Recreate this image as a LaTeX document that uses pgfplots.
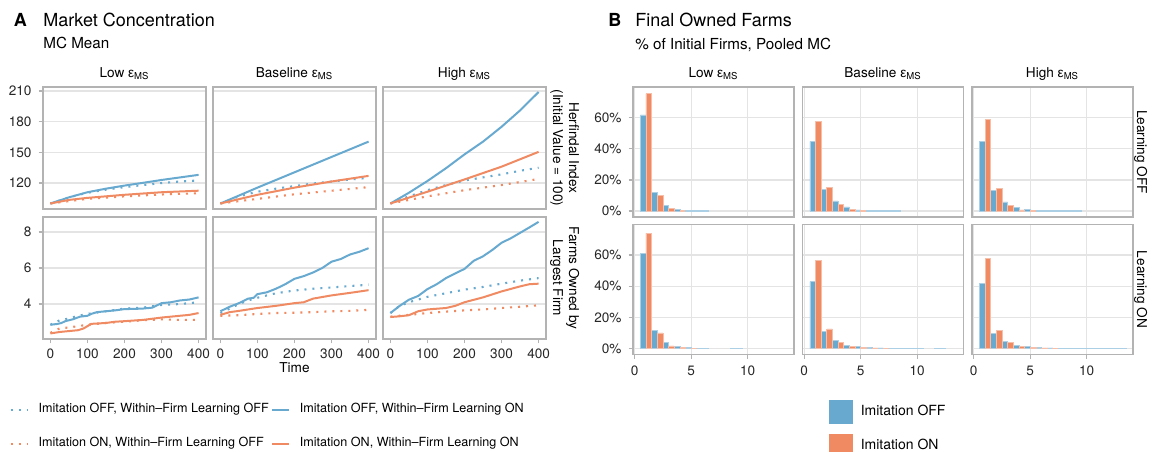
\documentclass[border=0pt]{standalone}
\usepackage{pgfplots}
\pgfplotsset{compat=1.18}
\usepackage{fontspec}
\setmainfont{TeX Gyre Heros}
\newfontfamily\grk{Liberation Sans}
\definecolor{cblue}{HTML}{67A9CF}
\definecolor{corange}{HTML}{EF8A62}
\definecolor{bordergray}{HTML}{B3B3B3}
\definecolor{gridgray}{HTML}{E4E4E4}
\newcommand{\eps}{{\grk ε}\textsubscript{MS}}
\newcommand{\ticksz}{\fontsize{6.8}{7}\selectfont}
\newcommand{\stripsz}{\fontsize{6.8}{8}\selectfont}
\pgfplotsset{
  /pgf/number format/assume math mode=true,
  every axis title/.style={at={(0.5,1)}, anchor=base, yshift=4.9pt, font=\stripsz},
  base/.style={scale only axis, clip mode=individual, axis line style={bordergray, line width=0.75pt},
    tick style={bordergray, line width=0.6pt}, tick align=outside, major tick length=2.2pt,
    xtick pos=left, ytick pos=left, grid style={gridgray, line width=0.6pt},
    tick label style={font=\ticksz, text=black!85}},
  Aax/.style={base, width=81.5pt, height=61pt, xmin=-20, xmax=420, ymajorgrids, xtick={0,100,200,300,400},
    xticklabel style={yshift=1pt}},
  Atop/.style={Aax, ymin=94.6, ymax=213.9, ytick={120,150,180,210}, xticklabels={}, xtick style={draw=none}},
  Abot/.style={Aax, ymin=2.06, ymax=8.83, ytick={4,6,8}},
  Bax/.style={base, width=80.5pt, height=65pt, xmin=-0.15, xmax=14.1, ymin=-3.8, ymax=79.6,
    xmajorgrids, ymajorgrids, xtick={0,5,10}, ytick={0,20,40,60}, yticklabel={\pgfmathprintnumber{\tick}\%}},
  Btop/.style={Bax, xticklabels={}, xtick style={draw=none}},
  noy/.style={yticklabels={}, ytick style={draw=none}},
  dotb/.style={cblue, line width=1.05pt, dash pattern=on 1pt off 3pt},
  doto/.style={corange, line width=1.05pt, dash pattern=on 1pt off 3pt},
  solb/.style={cblue, line width=1pt},
  solo/.style={corange, line width=1pt},
  hb/.style={ybar, bar width=0.5, bar shift=0pt, fill=cblue, draw=cblue!55!white, line width=0.3pt, forget plot},
  ho/.style={ybar, bar width=0.5, bar shift=0pt, fill=corange, draw=corange!55!white, line width=0.3pt, forget plot},
  fb/.style={ybar, bar width=1, bar shift=0pt, fill=cblue, draw=cblue!55!white, line width=0.3pt, forget plot},
}
\begin{document}
\begin{tikzpicture}
\path[use as bounding box] (0,0) rectangle (576pt,-225.5pt);
% Titles
\node[anchor=base west, inner sep=0pt, font=\bfseries\fontsize{9}{10}\selectfont] at (6.7pt,-13pt) {A};
\node[anchor=base west, inner sep=0pt, font=\fontsize{9}{10}\selectfont] at (21.5pt,-13pt) {Market Concentration};
\node[anchor=base west, inner sep=0pt, font=\fontsize{7.6}{8}\selectfont] at (21.5pt,-24.4pt) {MC Mean};
\node[anchor=base west, inner sep=0pt, font=\bfseries\fontsize{9}{10}\selectfont] at (304pt,-13pt) {B};
\node[anchor=base west, inner sep=0pt, font=\fontsize{9}{10}\selectfont] at (317.5pt,-13pt) {Final Owned Farms};
\node[anchor=base west, inner sep=0pt, font=\fontsize{7.6}{8}\selectfont] at (317.5pt,-24.8pt) {\% of Initial Firms, Pooled MC};

% ===== Panel A top row =====
\begin{axis}[Atop, at={(21.5pt,-43.5pt)}, anchor=north west, title={Low \eps}]
\addplot[dotb] coordinates {(0,100) (50,106) (100,110.5) (150,113.5) (200,116) (250,118) (300,120) (350,121.5) (400,122.5)};
\addplot[solb] coordinates {(0,100) (50,106) (100,111) (150,114.5) (200,117.5) (250,120.2) (300,123) (350,125.5) (400,128)};
\addplot[doto] coordinates {(0,100) (100,104.5) (200,107) (300,108.8) (400,110)};
\addplot[solo] coordinates {(0,100) (50,103.5) (100,105.5) (200,108.5) (300,111) (400,112.5)};
\end{axis}
\begin{axis}[Atop, noy, at={(106.5pt,-43.5pt)}, anchor=north west, title={Baseline \eps}]
\addplot[dotb] coordinates {(0,100) (50,107) (100,111.5) (150,114.5) (200,117) (250,119.5) (300,121.5) (350,123.5) (400,125)};
\addplot[solb] coordinates {(0,100) (100,115.5) (200,130.5) (300,145.5) (400,160.5)};
\addplot[doto] coordinates {(0,100) (100,104.5) (200,109) (300,112.5) (400,116)};
\addplot[solo] coordinates {(0,100) (100,108.5) (200,115.5) (300,121.5) (400,127)};
\end{axis}
\begin{axis}[Atop, noy, at={(191.5pt,-43.5pt)}, anchor=north west, title={High \eps}]
\addplot[dotb] coordinates {(0,100) (50,107) (100,113) (150,118) (200,122.5) (250,125.5) (300,128.5) (350,132) (400,135)};
\addplot[solb] coordinates {(0,100) (50,110.5) (100,122) (150,134.5) (200,148) (250,160.5) (300,175) (350,191) (400,209)};
\addplot[doto] coordinates {(0,100) (100,107) (200,113) (300,118) (400,124)};
\addplot[solo] coordinates {(0,100) (100,111.5) (200,123.5) (300,136) (400,150.5)};
\node[rotate=-90, align=center, font=\stripsz] at (rel axis cs:1.115,0.5) {Herfindal Index\\(Initial Value = 100)};
\end{axis}

% ===== Panel A bottom row =====
\begin{axis}[Abot, at={(21.5pt,-108.5pt)}, anchor=north west,
  legend columns=2, legend cell align=left,
  legend style={at={(axis description cs:-0.245,-0.46)}, anchor=north west, draw=none, fill=none,
    font=\fontsize{6.3}{7}\selectfont, row sep=6.8pt, /tikz/every even column/.append style={column sep=-1pt}},
  legend image code/.code={\path[draw=none, fill=none] (0pt,0pt) -- (12pt,0pt); \draw[#1] (0pt,0pt) -- (8.5pt,0pt);}]
\addplot[dotb] coordinates {(0,2.85) (25,3.1) (50,3.2) (75,3.35) (100,3.45) (150,3.6) (200,3.75) (250,3.8) (300,3.95) (350,4.0) (400,4.1)};
\addlegendentry{Imitation OFF, Within--Firm Learning OFF}
\addplot[solb] coordinates {(0,2.85) (20,2.9) (30,2.95) (40,3.05) (60,3.15) (80,3.3) (100,3.35) (110,3.45) (125,3.55) (150,3.6) (175,3.65) (200,3.72) (225,3.73) (250,3.75) (275,3.8) (290,3.95) (300,4.05) (325,4.1) (350,4.2) (375,4.25) (400,4.37)};
\addlegendentry{Imitation OFF, Within--Firm Learning ON}
\addplot[doto] coordinates {(0,2.4) (25,2.65) (50,2.7) (100,2.85) (150,2.95) (200,3.02) (250,3.1) (300,3.15) (350,3.12) (400,3.12)};
\addlegendentry{Imitation ON, Within--Firm Learning OFF}
\addplot[solo] coordinates {(0,2.37) (25,2.45) (50,2.5) (75,2.55) (90,2.65) (110,2.9) (150,2.95) (175,3.02) (200,3.05) (250,3.12) (300,3.25) (350,3.35) (375,3.4) (400,3.5)};
\addlegendentry{Imitation ON, Within--Firm Learning ON}
\end{axis}
\begin{axis}[Abot, noy, at={(106.5pt,-108.5pt)}, anchor=north west, xlabel={Time},
  xlabel style={font=\stripsz, yshift=4.6pt}]
\addplot[dotb] coordinates {(0,3.5) (25,3.75) (50,4.0) (75,4.2) (100,4.35) (150,4.6) (200,4.75) (250,4.85) (300,4.92) (350,5.0) (400,5.07)};
\addplot[solb] coordinates {(0,3.6) (25,3.85) (50,4.05) (75,4.3) (90,4.35) (100,4.55) (125,4.65) (150,4.85) (175,5.1) (200,5.4) (225,5.55) (250,5.75) (275,6.0) (300,6.35) (325,6.5) (350,6.75) (375,6.9) (400,7.1)};
\addplot[doto] coordinates {(0,3.35) (50,3.38) (100,3.45) (150,3.5) (200,3.52) (250,3.55) (300,3.6) (350,3.62) (400,3.68)};
\addplot[solo] coordinates {(0,3.4) (25,3.55) (50,3.62) (75,3.7) (100,3.78) (150,3.9) (200,4.05) (225,4.1) (250,4.3) (300,4.48) (350,4.62) (400,4.77)};
\end{axis}
\begin{axis}[Abot, noy, at={(191.5pt,-108.5pt)}, anchor=north west]
\addplot[dotb] coordinates {(0,3.5) (25,3.9) (50,4.1) (100,4.4) (150,4.6) (200,4.8) (250,4.95) (300,5.13) (350,5.3) (400,5.44)};
\addplot[solb] coordinates {(0,3.5) (25,3.9) (50,4.24) (75,4.45) (100,4.83) (125,5.1) (150,5.44) (175,5.7) (200,5.95) (225,6.4) (250,6.65) (275,7.0) (300,7.4) (325,7.65) (350,7.95) (375,8.25) (400,8.56)};
\addplot[doto] coordinates {(0,3.3) (50,3.4) (100,3.5) (150,3.58) (200,3.65) (250,3.7) (300,3.78) (350,3.85) (400,3.93)};
\addplot[solo] coordinates {(0,3.28) (25,3.32) (50,3.38) (75,3.6) (100,3.7) (150,3.78) (175,3.9) (200,4.1) (250,4.37) (300,4.7) (350,4.98) (375,5.1) (400,5.13)};
\node[rotate=-90, align=center, font=\stripsz] at (rel axis cs:1.115,0.5) {Farms Owned by\\Largest Firm};
\end{axis}

% ===== Panel B top row =====
\begin{axis}[Btop, at={(316.5pt,-43.5pt)}, anchor=north west, title={Low \eps}]
\addplot[hb] coordinates {(0.75,61.7) (1.75,11.8) (2.75,3.8) (3.75,1.1)};
\addplot[ho] coordinates {(1.25,75.4) (2.25,10.1) (3.25,1.5) (4.25,0.6)};
\addplot[fb] coordinates {(5,0.4) (6,0.3)};
\end{axis}
\begin{axis}[Btop, noy, at={(401.25pt,-43.5pt)}, anchor=north west, title={Baseline \eps}]
\addplot[hb] coordinates {(0.75,44.8) (1.75,14.1) (2.75,6.5) (3.75,2.7) (4.75,0.8)};
\addplot[ho] coordinates {(1.25,57.5) (2.25,15.4) (3.25,4.4) (4.25,1.3) (5.25,0.6)};
\addplot[fb] coordinates {(6,0.4) (7,0.4) (8,0.4)};
\end{axis}
\begin{axis}[Btop, noy, at={(486pt,-43.5pt)}, anchor=north west, title={High \eps}]
\addplot[hb] coordinates {(0.75,44.8) (1.75,13.3) (2.75,5.9) (3.75,2.5) (4.75,1.0)};
\addplot[ho] coordinates {(1.25,59) (2.25,14.5) (3.25,3.6) (4.25,0.8) (5.25,0.6)};
\addplot[fb] coordinates {(6,0.35) (7,0.35) (8,0.35) (9,0.35)};
\node[rotate=-90, font=\stripsz] at (rel axis cs:1.048,0.5) {Learning OFF};
\end{axis}

% ===== Panel B bottom row =====
\begin{axis}[Bax, at={(316.5pt,-112.25pt)}, anchor=north west]
\addplot[hb] coordinates {(0.75,60.9) (1.75,11.6) (2.75,3.8) (3.75,1.3) (4.75,0.6)};
\addplot[ho] coordinates {(1.25,74) (2.25,10.1) (3.25,1.7) (4.25,0.6) (5.25,0.3)};
\addplot[fb] coordinates {(6,0.3) (9,0.3)};
\end{axis}
\begin{axis}[Bax, noy, at={(401.25pt,-112.25pt)}, anchor=north west,
  legend cell align=left,
  legend style={at={(axis description cs:0.127,-0.317)}, anchor=north west, draw=none, fill=none,
    font=\fontsize{7}{8}\selectfont, row sep=5pt}]
\addplot[hb] coordinates {(0.75,43) (1.75,11.1) (2.75,5.1) (3.75,2.3) (4.75,1.5) (5.75,0.8) (6.75,0.5)};
\addplot[ho] coordinates {(1.25,56.4) (2.25,12.6) (3.25,3.8) (4.25,1.5) (5.25,0.8) (6.25,0.4) (7.25,0.3)};
\addplot[fb] coordinates {(8,0.3) (9,0.3) (10,0.3) (12,0.3)};
\addlegendimage{legend image code/.code={\path[draw=none, fill=none] (0pt,0pt) -- (13.5pt,0pt); \fill[cblue] (0pt,-5.75pt) rectangle (11.5pt,5.75pt);}}
\addlegendentry{Imitation OFF}
\addlegendimage{legend image code/.code={\path[draw=none, fill=none] (0pt,0pt) -- (13.5pt,0pt); \fill[corange] (0pt,-5.75pt) rectangle (11.5pt,5.75pt);}}
\addlegendentry{Imitation ON}
\end{axis}
\begin{axis}[Bax, noy, at={(486pt,-112.25pt)}, anchor=north west]
\addplot[hb] coordinates {(0.75,41.7) (1.75,9.8) (2.75,4.5) (3.75,2.3) (4.75,1.3) (5.75,0.8) (6.75,0.5)};
\addplot[ho] coordinates {(1.25,57.9) (2.25,11.5) (3.25,4.0) (4.25,1.3) (5.25,0.8) (6.25,0.5) (7.25,0.3)};
\addplot[fb] coordinates {(8,0.3) (9,0.3) (10,0.3) (11,0.3) (12,0.3) (13,0.3)};
\node[rotate=-90, font=\stripsz] at (rel axis cs:1.048,0.5) {Learning ON};
\end{axis}
\end{tikzpicture}
\end{document}
